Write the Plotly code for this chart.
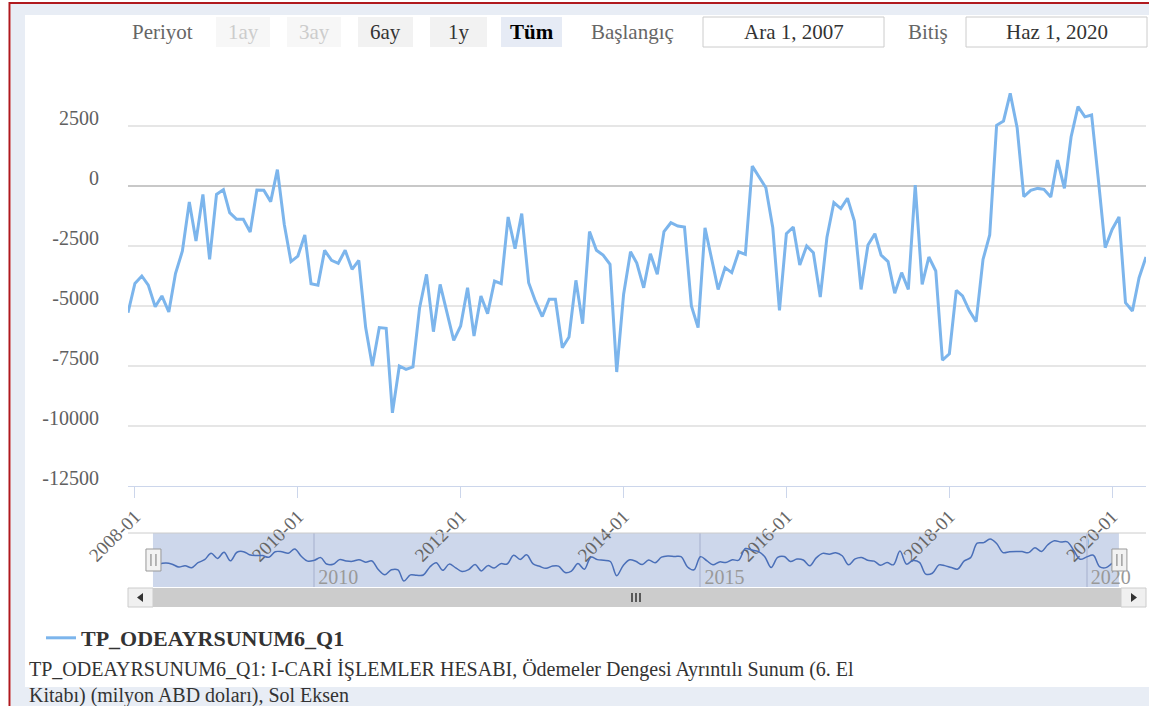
import plotly.graph_objects as go
import pandas as pd

W, H = 1149, 706

# ---------------- data ----------------
start_month = "2007-12-01"
series_name = "TP_ODEAYRSUNUM6_Q1"
values = [
    -5280,                                                                # 2007-12
    -4060, -3750, -4130, -5030, -4580, -5250, -3650, -2710, -670, -2290, -350, -3060,   # 2008
    -350, -150, -1110, -1390, -1390, -1920, -170, -180, -650, 680, -1600, -3150,        # 2009
    -2920, -2040, -4070, -4130, -2680, -3100, -3220, -2680, -3470, -3100, -5900, -7500, # 2010
    -5900, -5930, -9450, -7500, -7640, -7540, -5070, -3680, -6070, -4100, -5280, -6430, # 2011
    -5830, -4240, -6250, -4580, -5320, -3960, -4070, -1290, -2610, -1150, -4030, -4790, # 2012
    -5440, -4720, -4720, -6740, -6290, -3930, -5740, -1900, -2680, -2880, -3260, -7750, # 2013
    -4510, -2740, -3210, -4240, -2820, -3680, -1900, -1530, -1670, -1710, -5000, -5900, # 2014
    -1740, -3060, -4310, -3400, -3610, -2740, -2850, 830, 350, -70, -1740, -5180,       # 2015
    -1990, -1710, -3290, -2500, -2780, -4630, -2130, -690, -940, -510, -1460, -4310,    # 2016
    -2460, -1990, -2880, -3150, -4470, -3610, -4310, 40, -4100, -2960, -3540, -7260,    # 2017
    -6990, -4350, -4580, -5200, -5650, -3060, -2040, 2530, 2710, 3860, 2430, -440,      # 2018
    -180, -100, -140, -460, 1080, -100, 2040, 3310, 2880, 2960, 200, -2570,             # 2019
    -1810, -1290, -4860, -5210, -3820, -2960,                                           # 2020
]
dates = pd.date_range(start_month, periods=len(values), freq="MS")

y_tick_vals = [2500, 0, -2500, -5000, -7500, -10000, -12500]
y_tick_text = ["2500", "0", "-2500", "-5000", "-7500", "-10000", "-12500"]
x_tick_vals = ["2008-01-01", "2010-01-01", "2012-01-01", "2014-01-01",
               "2016-01-01", "2018-01-01", "2020-01-01"]
x_tick_text = ["2008-01", "2010-01", "2012-01", "2014-01", "2016-01", "2018-01", "2020-01"]
nav_tick_vals = ["2010-01-01", "2015-01-01", "2020-01-01"]
nav_tick_text = ["2010", "2015", "2020"]

period_label = "Periyot"
period_buttons = ["1ay", "3ay", "6ay", "1y", "Tüm"]
start_caption, start_value = "Başlangıç", "Ara 1, 2007"
end_caption, end_value = "Bitiş", "Haz 1, 2020"
footer_lines = [
    "TP_ODEAYRSUNUM6_Q1: I-CARİ İŞLEMLER HESABI, Ödemeler Dengesi Ayrıntılı Sunum (6. El",
    "Kitabı) (milyon ABD doları), Sol Eksen",
]

# ---------------- helpers ----------------
SERIF = "Liberation Serif"


def X(px):
    return px / W


def Y(py):
    return 1 - py / H


shapes = []
annotations = []


def rect(x0, y0, x1, y1, fill, line=None, lw=0, layer="above"):
    shapes.append(dict(type="rect", xref="paper", yref="paper",
                       x0=X(x0), x1=X(x1), y0=Y(y1), y1=Y(y0),
                       fillcolor=fill, layer=layer,
                       line=dict(color=line or fill, width=lw)))


def hline(x0, x1, y, color, width):
    shapes.append(dict(type="line", xref="paper", yref="paper",
                       x0=X(x0), x1=X(x1), y0=Y(y), y1=Y(y),
                       line=dict(color=color, width=width)))


def vline(x, y0, y1, color, width):
    shapes.append(dict(type="line", xref="paper", yref="paper",
                       x0=X(x), x1=X(x), y0=Y(y0), y1=Y(y1),
                       line=dict(color=color, width=width)))


def text(x, y, s, size=21, color="#333333", anchor="center", weight="normal"):
    annotations.append(dict(xref="paper", yref="paper", x=X(x), y=Y(y), text=s,
                            showarrow=False, xanchor=anchor, yanchor="middle",
                            align="left",
                            font=dict(family=SERIF, size=size, color=color, weight=weight)))


# ---------------- frame ----------------
BAND = "#e8edf5"
RED = "#b0191e"
rect(11, 4, W, 15, BAND)
rect(11, 4, 25, H, BAND)
rect(11, 687, W, H, BAND)
hline(9, W, 3, RED, 2)
vline(9.5, 2, H, RED, 2)

# ---------------- range selector look ----------------
text(162, 32, period_label, color="#666666")
btn_boxes = [(216, 270), (287, 341), (358, 413), (430, 487), (501, 562)]
for i, (lbl, (bx0, bx1)) in enumerate(zip(period_buttons, btn_boxes)):
    if i < 2:
        fill, col, wt = "#f7f7f7", "#cccccc", "normal"
    elif i == 4:
        fill, col, wt = "#e6ebf5", "#000000", "bold"
    else:
        fill, col, wt = "#f2f2f2", "#333333", "normal"
    rect(bx0, 17, bx1, 47, fill)
    text((bx0 + bx1) / 2, 32, lbl, color=col, weight=wt)

text(632, 32, start_caption, color="#666666")
rect(703, 17, 884, 47, "#ffffff", line="#cccccc", lw=1)
text(793.5, 32, start_value, color="#333333")
text(928, 32, end_caption, color="#666666")
rect(966, 17, 1147, 47, "#ffffff", line="#cccccc", lw=1)
text(1056.5, 32, end_value, color="#333333")

# ---------------- navigator decorations ----------------
NAV_TOP, NAV_BOT = 533, 587
shapes.append(dict(type="rect", xref="x2", yref="paper",
                   x0=start_month, x1=str(dates[-1].date()),
                   y0=Y(NAV_BOT), y1=Y(NAV_TOP),
                   fillcolor="rgba(102,133,194,0.33)", line=dict(width=0), layer="below"))
hline(128, 1146, NAV_TOP, "#cccccc", 1)

for anchor in [start_month, str(dates[-1].date())]:
    shapes.append(dict(type="rect", xref="x2", yref="paper", xsizemode="pixel",
                       xanchor=anchor, x0=-7, x1=8, y0=Y(571), y1=Y(549),
                       fillcolor="#f2f2f2", line=dict(color="#999999", width=1)))
    for dx in (-2, 3):
        shapes.append(dict(type="line", xref="x2", yref="paper", xsizemode="pixel",
                           xanchor=anchor, x0=dx, x1=dx, y0=Y(566), y1=Y(554),
                           line=dict(color="#777777", width=1)))

# scrollbar
SB_TOP, SB_BOT = 588, 607
rect(153, SB_TOP, 1121, SB_BOT, "#cccccc")
rect(128, SB_TOP, 153, SB_BOT, "#f0f0f0", line="#cccccc", lw=1)
rect(1121, SB_TOP, 1146, SB_BOT, "#f0f0f0", line="#cccccc", lw=1)
for gx in (632, 636, 640):
    vline(gx, 593, 602, "#333333", 1.5)
shapes.append(dict(type="path", xref="paper", yref="paper", fillcolor="#333333",
                   line=dict(width=0),
                   path=f"M {X(143)} {Y(593)} L {X(137)} {Y(597.5)} L {X(143)} {Y(602)} Z"))
shapes.append(dict(type="path", xref="paper", yref="paper", fillcolor="#333333",
                   line=dict(width=0),
                   path=f"M {X(1131)} {Y(593)} L {X(1137)} {Y(597.5)} L {X(1131)} {Y(602)} Z"))

# footer (one two-line text block)
text(27, 682, "<br>".join(footer_lines), size=20, color="#333333", anchor="left")

# ---------------- traces ----------------
fig = go.Figure()
fig.add_trace(go.Scatter(x=dates, y=values, mode="lines", name=series_name,
                         line=dict(color="#7cb5ec", width=3), xaxis="x", yaxis="y"))
fig.add_trace(go.Scatter(x=dates, y=values, mode="lines", showlegend=False,
                         line=dict(color="#4a6fb8", width=1.5, shape="spline"),
                         xaxis="x2", yaxis="y2", hoverinfo="skip"))

fig.update_layout(
    width=W, height=H,
    margin=dict(l=0, r=0, t=0, b=0),
    paper_bgcolor="#ffffff", plot_bgcolor="rgba(0,0,0,0)",
    font=dict(family=SERIF, size=20, color="#666666"),
    shapes=shapes, annotations=annotations,
    showlegend=True,
    legend=dict(x=X(41), y=Y(638), xanchor="left", yanchor="middle",
                bgcolor="rgba(0,0,0,0)",
                font=dict(family=SERIF, size=22, color="#333333", weight="bold")),
    xaxis=dict(domain=[X(128), X(1146)], anchor="y", type="date",
               range=[start_month, str(dates[-1].date())],
               tickvals=x_tick_vals, ticktext=x_tick_text, tickangle=-45,
               ticks="outside", ticklen=11, tickcolor="#ccd6eb",
               showline=True, linecolor="#ccd6eb", linewidth=1,
               showgrid=False, zeroline=False, automargin=False,
               tickfont=dict(family=SERIF, size=19, color="#666666")),
    yaxis=dict(domain=[Y(486), Y(66)], anchor="x", range=[-12500, 5000],
               tickvals=y_tick_vals, ticktext=y_tick_text,
               showgrid=True, gridcolor="#e6e6e6", gridwidth=1.5,
               zeroline=True, zerolinecolor="#c8c8c8", zerolinewidth=2,
               ticks="", ticklabelstandoff=28, ticklabelshift=-8,
               showline=False, automargin=False,
               tickfont=dict(family=SERIF, size=20, color="#606060")),
    xaxis2=dict(domain=[X(128), X(1146)], anchor="y2", type="date",
                range=["2007-08-05", "2020-10-07"],
                tickvals=nav_tick_vals, ticktext=nav_tick_text,
                ticklabelposition="inside right", ticks="",
                ticklabelstandoff=-7, ticklabelshift=4,
                showgrid=True, gridcolor="#b9c3dc", gridwidth=1.5,
                showline=False, zeroline=False, automargin=False,
                tickfont=dict(family=SERIF, size=20, color="#999999")),
    yaxis2=dict(domain=[Y(NAV_BOT), Y(NAV_TOP)], anchor="x2",
                range=[-11350, 5760], visible=False, fixedrange=True),
)

fig.write_html("out.html", config={"displayModeBar": False},
               post_script="document.body.style.margin='0px';")
